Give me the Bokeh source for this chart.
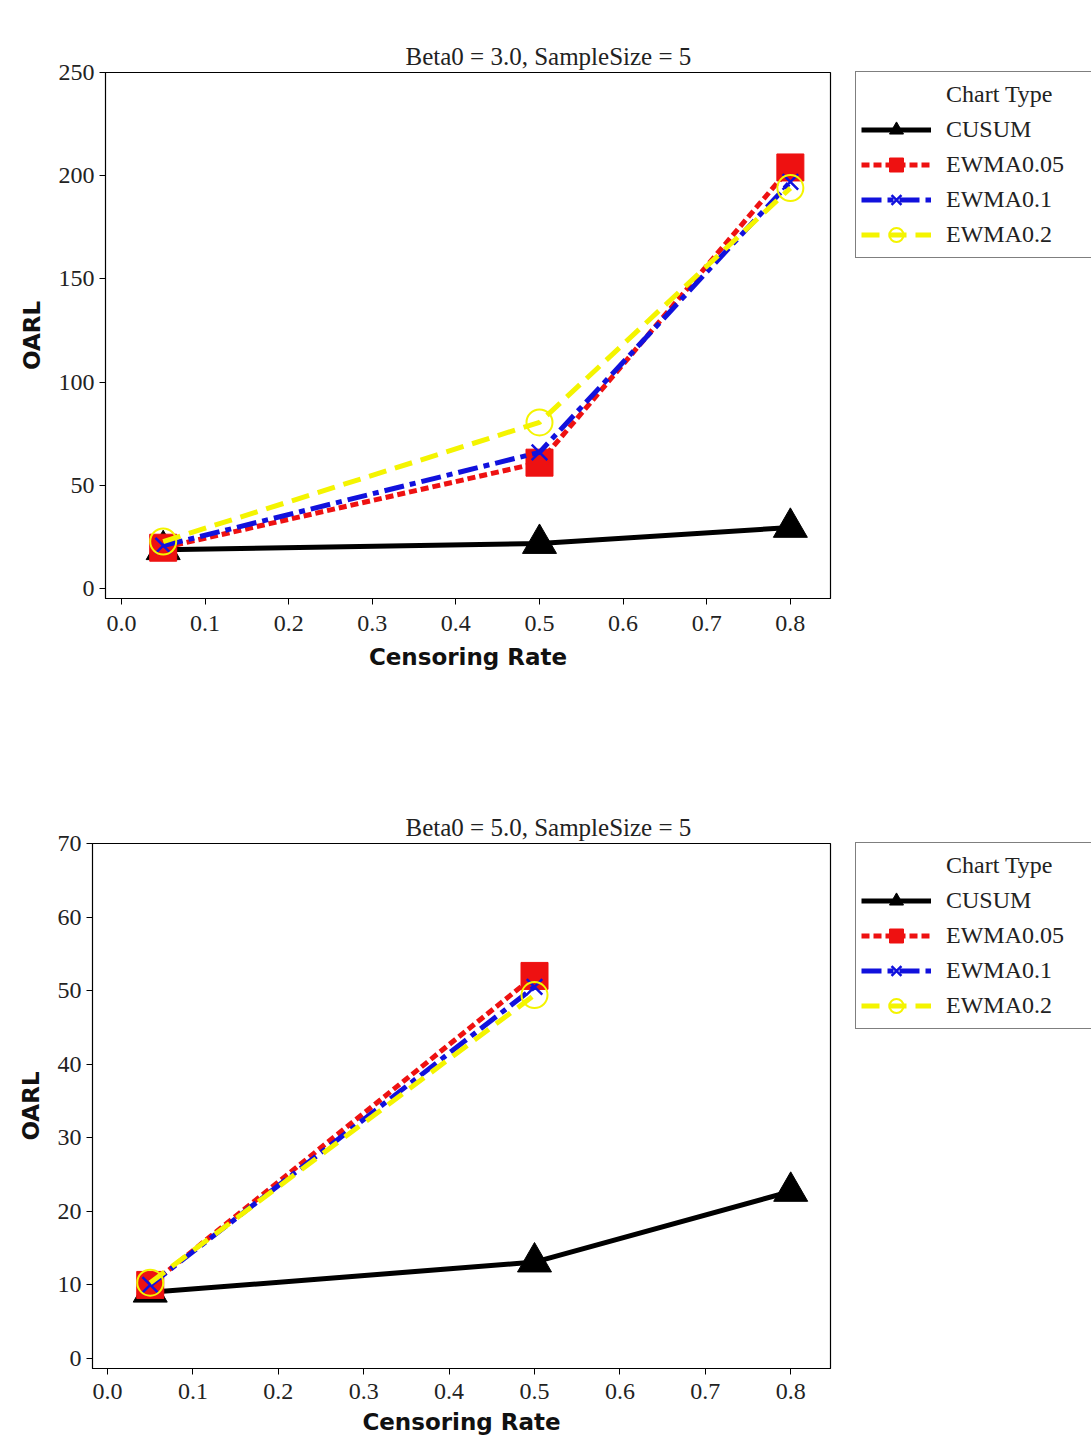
import math
from bokeh.plotting import figure
from bokeh.layouts import column
from bokeh.models import Legend, LegendItem, FixedTicker, PrintfTickFormatter, Range1d, Title
from bokeh.embed import file_html
from bokeh.resources import INLINE

nan = float("nan")

# ---------------- data ----------------
censoring_rate = [0.05, 0.5, 0.8]
x_ticks = [0.0, 0.1, 0.2, 0.3, 0.4, 0.5, 0.6, 0.7, 0.8]
series_names = ["CUSUM", "EWMA0.05", "EWMA0.1", "EWMA0.2"]
legend_title = "Chart Type"

top_title = "Beta0 = 3.0, SampleSize = 5"
top_y_ticks = [0, 50, 100, 150, 200, 250]
top_cusum = [18.8, 21.8, 29.6]
top_ewma005 = [19.8, 61.0, 204.0]
top_ewma01 = [20.8, 66.0, 197.0]
top_ewma02 = [22.8, 80.5, 194.0]

bot_title = "Beta0 = 5.0, SampleSize = 5"
bot_y_ticks = [0, 10, 20, 30, 40, 50, 60, 70]
bot_cusum = [9.0, 13.1, 22.7]
bot_ewma005 = [10.0, 52.0, nan]
bot_ewma01 = [10.0, 50.5, nan]
bot_ewma02 = [10.3, 49.4, nan]

# ---------------- styles ----------------
styles = {
    "CUSUM": dict(color="black", dash="solid", marker="triangle", size=34, fill=True, mlw=1),
    "EWMA0.05": dict(color="#ee1111", dash="8 4", marker="square", size=27, fill=True, mlw=1),
    "EWMA0.1": dict(color="#1111dd", dash="20 6 6 6", marker="x", size=22, fill=False, mlw=2.5),
    "EWMA0.2": dict(color="#f4f400", dash="18 9", marker="circle", size=26, fill=False, mlw=2),
}

SERIF = "Liberation Serif"
SANS = "DejaVu Sans"
FIG_W = 1085
BORDER_LEFT = 92


def make_panel(title, series, y_ticks, y_start, y_end, x_start, x_end,
               height, shift_left, frame_w, frame_h, border_top, spacer_px,
               title_x, ylabel_standoff, xlabel_standoff, xtick_standoff):
    width = FIG_W - shift_left
    p = figure(width=width, height=height, output_backend="svg", toolbar_location=None,
               title=None,
               frame_width=frame_w, frame_height=frame_h,
               min_border_left=BORDER_LEFT, min_border_top=border_top,
               min_border_right=width - BORDER_LEFT - frame_w,
               min_border_bottom=height - border_top - frame_h,
               x_range=Range1d(x_start, x_end), y_range=Range1d(y_start, y_end))
    p.margin = (0, 0, 0, shift_left)

    p.add_layout(Title(text=title, align="left", offset=title_x, standoff=6,
                       text_font=SERIF, text_font_size="25px",
                       text_font_style="normal", text_color="#222222"), "above")
    # transparent spacer between the frame and the title
    p.add_layout(Title(text=".", text_font=SERIF, text_font_size=spacer_px, standoff=2,
                       text_alpha=0.0), "above")

    p.xgrid.visible = False
    p.ygrid.visible = False
    p.outline_line_color = "black"
    p.outline_line_width = 1.2
    p.background_fill_color = "white"
    p.border_fill_color = "white"

    for ax in (p.xaxis[0], p.yaxis[0]):
        ax.axis_line_color = "black"
        ax.major_tick_line_color = "black"
        ax.major_tick_out = 6
        ax.major_tick_in = 0
        ax.minor_tick_line_color = None
        ax.major_label_text_font = SERIF
        ax.major_label_text_font_size = "24px"
        ax.major_label_text_color = "#222222"
        ax.axis_label_text_font = SANS
        ax.axis_label_text_font_size = "23px"
        ax.axis_label_text_font_style = "bold"
        ax.axis_label_text_color = "#111111"

    p.xaxis.ticker = FixedTicker(ticks=x_ticks)
    p.xaxis.formatter = PrintfTickFormatter(format="%.1f")
    p.xaxis.axis_label = "Censoring Rate"
    p.xaxis.major_label_standoff = xtick_standoff
    p.xaxis.axis_label_standoff = xlabel_standoff

    p.yaxis.ticker = FixedTicker(ticks=y_ticks)
    p.yaxis.axis_label = "OARL"
    p.yaxis.major_label_standoff = 5
    p.yaxis.axis_label_standoff = ylabel_standoff

    items = []
    dummy = p.line(x=[], y=[], line_alpha=0)
    items.append(LegendItem(label=legend_title, renderers=[dummy]))
    for name, ys in zip(series_names, series):
        st = styles[name]
        r1 = p.line(censoring_rate, ys, line_color=st["color"], line_width=5,
                    line_dash=st["dash"])
        r2 = p.scatter(censoring_rate, ys, marker=st["marker"], size=st["size"],
                       line_color=st["color"], line_width=st["mlw"],
                       fill_color=st["color"] if st["fill"] else None)
        items.append(LegendItem(label=name, renderers=[r1, r2]))

    leg = Legend(items=items, location=(25, frame_h - 186), margin=0, padding=5,
                 spacing=0, glyph_height=35, glyph_width=70, label_standoff=15,
                 label_width=160, label_height=35,
                 label_text_font=SERIF, label_text_font_size="24px",
                 label_text_color="#222222",
                 border_line_color="black", border_line_width=1.2,
                 background_fill_color="white", background_fill_alpha=1.0)
    p.add_layout(leg, "right")
    return p


p1 = make_panel(top_title, [top_cusum, top_ewma005, top_ewma01, top_ewma02],
                top_y_ticks, -4.8, 250, -0.019, 0.848,
                height=760, shift_left=13, frame_w=725, frame_h=526, border_top=72,
                spacer_px="26px",
                title_x=300, ylabel_standoff=11, xlabel_standoff=10, xtick_standoff=11)

p2 = make_panel(bot_title, [bot_cusum, bot_ewma005, bot_ewma01, bot_ewma02],
                bot_y_ticks, -1.36, 70, -0.0176, 0.8466,
                height=680, shift_left=0, frame_w=738, frame_h=525, border_top=83,
                spacer_px="24px",
                title_x=313, ylabel_standoff=11, xlabel_standoff=7, xtick_standoff=9)

layout = column(p1, p2, spacing=0)
open("out.html", "w").write(file_html(layout, INLINE))
